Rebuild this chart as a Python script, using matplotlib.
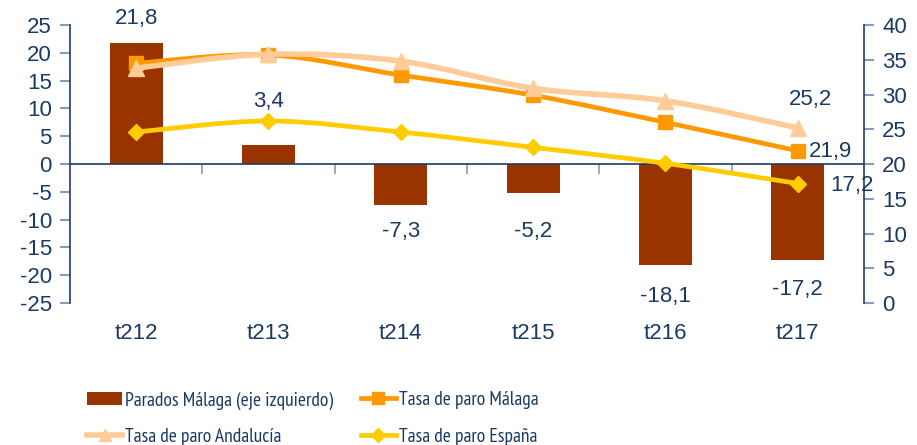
import matplotlib
matplotlib.use("Agg")
import matplotlib.pyplot as plt
from matplotlib.path import Path
from matplotlib.patches import PathPatch, Patch
from matplotlib.lines import Line2D
import numpy as np

categories = ["t212", "t213", "t214", "t215", "t216", "t217"]
parados_malaga = [21.8, 3.4, -7.3, -5.2, -18.1, -17.2]
tasa_malaga = [34.5, 35.7, 32.8, 29.9, 26.0, 21.9]
tasa_andalucia = [33.8, 35.8, 34.8, 30.9, 29.1, 25.2]
tasa_espana = [24.6, 26.2, 24.6, 22.4, 20.1, 17.2]
left_ticks = list(range(-25, 30, 5))
right_ticks = list(range(0, 45, 5))

TXT = "#1b3a63"
SPINE = "#1f3b66"
plt.rcParams['font.family'] = ['Liberation Sans', 'DejaVu Sans']

fig = plt.figure(figsize=(9.17, 4.45), dpi=100)
ax = fig.add_axes([0.0763, 0.319, 0.8659, 0.6247])
ax2 = ax.twinx()

x = np.arange(len(categories))
ax.bar(x, parados_malaga, width=0.4, color="#993300", zorder=2)
ax.set_xlim(-0.5, len(categories) - 0.5)
ax.set_ylim(-25, 25)
ax.set_yticks(left_ticks)
ax.set_yticklabels([str(t) for t in left_ticks])
ax2.set_ylim(0, 40)
ax2.set_yticks(right_ticks)

for a in (ax, ax2):
    a.spines['top'].set_visible(False)
    a.spines['bottom'].set_visible(False)
    a.tick_params(axis='y', colors="#8a9bb5", labelcolor=TXT, labelsize=16, length=7, width=1.5, pad=6)
ax.spines['left'].set_color(SPINE)
ax.spines['right'].set_visible(False)
ax2.spines['left'].set_visible(False)
ax2.spines['right'].set_color(SPINE)
ax.spines['left'].set_linewidth(1.2)
ax2.spines['right'].set_linewidth(1.2)

# zero line and category boundary ticks
ax.axhline(0, color=SPINE, lw=1.2, zorder=3)
bounds = np.arange(0.5, len(categories) - 1, 1.0)
ax.set_xticks(bounds)
ax.set_xticklabels([])
ax.spines['bottom'].set_position(('data', 0))
ax.tick_params(axis='x', length=7, width=1.2, colors="#8a9bb5", direction='out')
for i, c in enumerate(categories):
    ax.text(i, -0.108, c, transform=ax.get_xaxis_transform(), ha='center', va='center',
            fontsize=16, color=TXT)

def smooth(ax_, xs, ys, color, lw, z):
    pts = np.column_stack([xs, ys]).astype(float)
    n = len(pts)
    verts = [pts[0]]
    codes = [Path.MOVETO]
    for i in range(n - 1):
        p0 = pts[i - 1] if i > 0 else pts[i]
        p1 = pts[i]
        p2 = pts[i + 1]
        p3 = pts[i + 2] if i + 2 < n else pts[i + 1]
        c1 = p1 + (p2 - p0) / 6.0
        c2 = p2 - (p3 - p1) / 6.0
        verts += [c1, c2, p2]
        codes += [Path.CURVE4] * 3
    patch = PathPatch(Path(verts, codes), facecolor='none', edgecolor=color, lw=lw,
                      zorder=z, capstyle='round', joinstyle='round')
    ax_.add_patch(patch)

series = [
    (tasa_malaga, "#ff9900", 3.4, 's', 10, 4),
    (tasa_andalucia, "#ffcc99", 4.0, '^', 11, 5),
    (tasa_espana, "#ffcc00", 3.4, 'D', 8, 6),
]
for ys, col, lw, mk, ms, z in series:
    smooth(ax2, x, ys, col, lw, z)
    ax2.plot(x, ys, linestyle='none', marker=mk, ms=ms, color=col, zorder=z + 0.5)

# bar labels
bar_offsets = [24, 44, -27, -39, -32, -30]
for i, v in enumerate(parados_malaga):
    ax.annotate(f"{v:.1f}".replace('.', ','), (i, v), xytext=(0, bar_offsets[i]),
                textcoords='offset pixels', ha='center', va='center', fontsize=16,
                color=TXT, zorder=10, annotation_clip=False)

# line labels at last point
last = len(categories) - 1
for ys, off in [(tasa_andalucia, (13, 28)), (tasa_malaga, (33, -1)), (tasa_espana, (54, -2))]:
    ax2.annotate(f"{ys[last]:.1f}".replace('.', ','), (last, ys[last]), xytext=off,
                 textcoords='offset pixels', ha='center', va='center', fontsize=16,
                 color=TXT, zorder=10, annotation_clip=False)

handles = [
    Patch(facecolor="#993300", edgecolor='none'),
    Line2D([], [], color="#ffcc99", lw=4.0, marker='^', ms=9),
    Line2D([], [], color="#ff9900", lw=3.4, marker='s', ms=9),
    Line2D([], [], color="#ffcc00", lw=3.4, marker='D', ms=7),
]
labels = ["Parados Málaga (eje izquierdo)", "Tasa de paro Andalucía",
          "Tasa de paro Málaga", "Tasa de paro España"]
leg = fig.legend(handles, labels, ncol=2, loc='upper left', bbox_to_anchor=(0.0763, 0.16),
                 frameon=False, handlelength=1.8, handletextpad=0.15, columnspacing=1.4,
                 labelspacing=0.95, prop={'family': ['PT Sans Narrow', 'Liberation Sans'], 'size': 14})
for t in leg.get_texts():
    t.set_color(TXT)

fig.savefig("out.png", dpi=100)
